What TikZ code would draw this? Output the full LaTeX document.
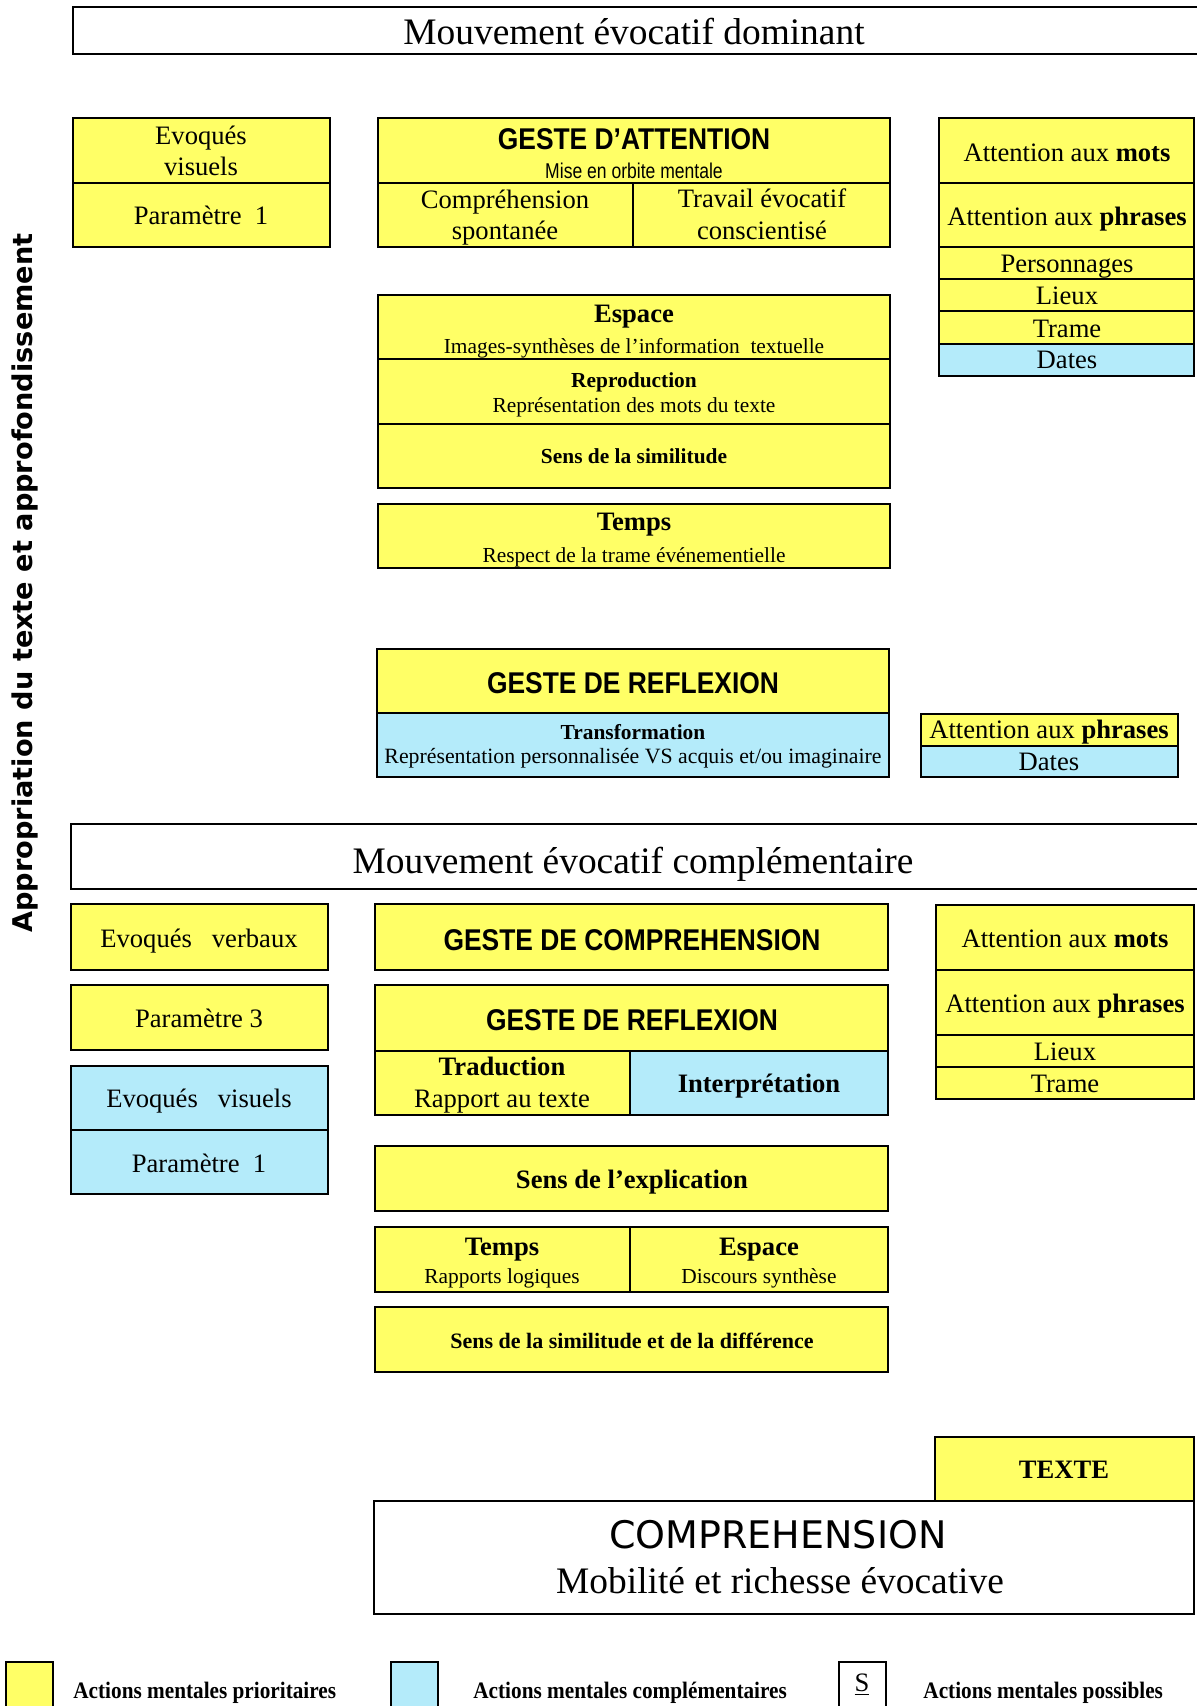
\documentclass[tikz,border=0pt]{standalone}
\usepackage{fontspec}
\usepackage{graphicx}
\setmainfont{Liberation Serif}
\newfontfamily\gestefont[FakeStretch=0.88]{Liberation Sans}
\newfontfamily\narrowfont[FakeStretch=0.82]{Liberation Sans}
\newfontfamily\legendfont[FakeStretch=0.9]{Liberation Serif}
\newfontfamily\roundfont{DejaVu Sans}

\definecolor{prio}{RGB}{255,255,102}
\definecolor{compl}{RGB}{180,235,250}

% a framed cell given by its top-left and bottom-right corners (in px)
\newcommand\cellbox[6]{%
  \pgfmathsetmacro\cellW{(#4-#2)*0.5}%
  \pgfmathsetmacro\cellH{(#5-#3)*0.5}%
  \node[cell, fill=#6, minimum width=\cellW pt, minimum height=\cellH pt,
        anchor=north west] (#1) at (#2,#3) {};}
% a text line placed on its baseline
\newcommand\lbl[5]{\node[#2, anchor=base] (#1) at (#3,#4) {#5};}

\begin{document}
\begin{tikzpicture}[x=0.5pt,y=-0.5pt,
  cell/.style={draw=black, line width=1.1pt, inner sep=0pt, outer sep=0pt},
  body/.style={inner sep=0pt, font=\fontsize{13.3}{15.5}\selectfont},
  small/.style={inner sep=0pt, font=\fontsize{10.7}{13}\selectfont},
  smallb/.style={inner sep=0pt, font=\fontsize{10.7}{13}\selectfont\bfseries},
  bodyb/.style={inner sep=0pt, font=\fontsize{13.3}{15.5}\selectfont\bfseries},
  geste/.style={inner sep=0pt, font=\gestefont\bfseries\fontsize{15}{18}\selectfont},
  mise/.style={inner sep=0pt, font=\narrowfont\fontsize{10.7}{13}\selectfont},
  title/.style={inner sep=0pt, font=\fontsize{18.7}{22}\selectfont},
  roundtitle/.style={inner sep=0pt, font=\roundfont\fontsize{19}{22}\selectfont},
  legend/.style={inner sep=0pt, anchor=base west, font=\legendfont\bfseries\fontsize{11.8}{14}\selectfont}]

\useasboundingbox (0,0) rectangle (1196,1706);
\fill[white] (0,0) rectangle (1196,1706);

% ---------- side label ----------
\node[rotate=90, inner sep=0pt, font=\roundfont\bfseries] (side) at (25,583)
  {\resizebox{349.5pt}{!}{Appropriation du texte et approfondissement}};

% ---------- dominant movement ----------
\cellbox{dom}{73}{7}{1204}{54}{white}
\lbl{domt}{title}{634}{45}{Mouvement évocatif dominant}

% visual evocations
\cellbox{evA}{73}{118}{330}{183}{prio}
\cellbox{parA}{73}{183}{330}{247}{prio}
\lbl{evAa}{body}{201}{145}{Evoqués}
\lbl{evAb}{body}{201}{176}{visuels}
\lbl{parAt}{body}{201}{225}{Paramètre~~1}

% gesture of attention
\cellbox{att}{378}{118}{890}{183}{prio}
\cellbox{comp}{378}{183}{633}{247}{prio}
\cellbox{trav}{633}{183}{890}{247}{prio}
\lbl{attt}{geste}{634}{150}{GESTE D’ATTENTION}
\lbl{atts}{mise}{634}{179}{Mise en orbite mentale}
\lbl{compa}{body}{505}{209}{Compréhension}
\lbl{compb}{body}{505}{240}{spontanée}
\lbl{trava}{body}{762}{208}{Travail évocatif}
\lbl{travb}{body}{762}{240}{conscientisé}

% attention column
\cellbox{rmA}{939}{118}{1194}{183}{prio}
\cellbox{rpA}{939}{183}{1194}{247}{prio}
\cellbox{rpers}{939}{247}{1194}{279}{prio}
\cellbox{rlieuA}{939}{279}{1194}{311}{prio}
\cellbox{rtrameA}{939}{311}{1194}{344}{prio}
\cellbox{rdatesA}{939}{344}{1194}{376}{compl}
\lbl{rmAt}{body}{1067}{162}{Attention aux \textbf{mots}}
\lbl{rpAt}{body}{1067}{226}{Attention aux \textbf{phrases}}
\lbl{rperst}{body}{1067}{273}{Personnages}
\lbl{rlieuAt}{body}{1067}{305}{Lieux}
\lbl{rtrameAt}{body}{1067}{337}{Trame}
\lbl{rdatesAt}{body}{1067}{369}{Dates}

% space / reproduction / similarity
\cellbox{esp}{378}{295}{890}{359}{prio}
\cellbox{repro}{378}{359}{890}{424}{prio}
\cellbox{simil}{378}{424}{890}{488}{prio}
\lbl{espa}{bodyb}{634}{322}{Espace}
\lbl{espb}{small}{634}{353}{Images-synthèses de l’information~~textuelle}
\lbl{reproa}{smallb}{634}{387}{Reproduction}
\lbl{reprob}{small}{634}{412}{Représentation des mots du texte}
\lbl{similt}{smallb}{634}{463}{Sens de la similitude}

% time
\cellbox{tps}{378}{504}{890}{568}{prio}
\lbl{tpsa}{bodyb}{634}{530}{Temps}
\lbl{tpsb}{small}{634}{562}{Respect de la trame événementielle}

% gesture of reflection
\cellbox{refA}{377}{649}{889}{713}{prio}
\cellbox{transf}{377}{713}{889}{777}{compl}
\lbl{refAt}{geste}{633}{693}{GESTE DE REFLEXION}
\lbl{transfa}{smallb}{633}{739}{Transformation}
\lbl{transfb}{inner sep=0pt, font=\fontsize{10.9}{13}\selectfont}{633}{763}{Représentation personnalisée VS acquis et/ou imaginaire}

\cellbox{rpB}{921}{714}{1178}{746}{prio}
\cellbox{rdatesB}{921}{746}{1178}{777}{compl}
\lbl{rpBt}{body}{1049}{738}{Attention aux \textbf{phrases}}
\lbl{rdatesBt}{body}{1049}{770}{Dates}

% ---------- complementary movement ----------
\cellbox{cpl}{71}{824}{1204}{889}{white}
\lbl{cplt}{title}{633}{873}{Mouvement évocatif complémentaire}

\cellbox{evverb}{71}{904}{328}{970}{prio}
\cellbox{parC}{71}{985}{328}{1050}{prio}
\cellbox{evvis}{71}{1066}{328}{1130}{compl}
\cellbox{parB}{71}{1130}{328}{1194}{compl}
\lbl{evverbt}{body}{199}{947}{Evoqués~~~verbaux}
\lbl{parCt}{body}{199}{1027}{Paramètre 3}
\lbl{evvist}{body}{199}{1107}{Evoqués~~~visuels}
\lbl{parBt}{body}{199}{1172}{Paramètre~~1}

\cellbox{gcomp}{375}{904}{888}{970}{prio}
\lbl{gcompt}{geste}{632}{950}{GESTE DE COMPREHENSION}

\cellbox{refB}{375}{985}{888}{1051}{prio}
\cellbox{trad}{375}{1051}{630}{1115}{prio}
\cellbox{interp}{630}{1051}{888}{1115}{compl}
\lbl{refBt}{geste}{632}{1030}{GESTE DE REFLEXION}
\lbl{trada}{bodyb}{502}{1075}{Traduction}
\lbl{tradb}{body}{502}{1107}{Rapport au texte}
\lbl{interpt}{bodyb}{759}{1092}{Interprétation}

\cellbox{expl}{375}{1146}{888}{1211}{prio}
\lbl{explt}{bodyb}{632}{1188}{Sens de l’explication}

\cellbox{tpsC}{375}{1227}{630}{1292}{prio}
\cellbox{espC}{630}{1227}{888}{1292}{prio}
\lbl{tpsCa}{bodyb}{502}{1255}{Temps}
\lbl{tpsCb}{small}{502}{1283}{Rapports logiques}
\lbl{espCa}{bodyb}{759}{1255}{Espace}
\lbl{espCb}{small}{759}{1283}{Discours synthèse}

\cellbox{simdiff}{375}{1307}{888}{1372}{prio}
\lbl{simdifft}{inner sep=0pt, font=\fontsize{11}{13}\selectfont\bfseries}{632}{1348}{Sens de la similitude et de la différence}

\cellbox{rmC}{936}{905}{1194}{970}{prio}
\cellbox{rpC}{936}{970}{1194}{1035}{prio}
\cellbox{rlieuC}{936}{1035}{1194}{1067}{prio}
\cellbox{rtrameC}{936}{1067}{1194}{1099}{prio}
\lbl{rmCt}{body}{1065}{947}{Attention aux \textbf{mots}}
\lbl{rpCt}{body}{1065}{1012}{Attention aux \textbf{phrases}}
\lbl{rlieuCt}{body}{1065}{1060}{Lieux}
\lbl{rtrameCt}{body}{1065}{1092}{Trame}

% ---------- outcome ----------
\cellbox{texte}{935}{1437}{1194}{1501}{prio}
\lbl{textet}{bodyb}{1064}{1478}{TEXTE}
\cellbox{res}{374}{1501}{1194}{1614}{white}
\lbl{resa}{roundtitle}{778}{1548}{COMPREHENSION}
\lbl{resb}{title}{780}{1593}{Mobilité et richesse évocative}

% ---------- key ----------
\cellbox{kprio}{6}{1662}{53}{1712}{prio}
\cellbox{kcompl}{391}{1662}{438}{1712}{compl}
\cellbox{kposs}{839}{1662}{886}{1712}{white}
\lbl{kposst}{body}{862}{1691}{\underline{S}}
\node[legend] (kpriot) at (73,1698) {Actions mentales prioritaires};
\node[legend] (kcomplt) at (473,1698) {Actions mentales complémentaires};
\node[legend] (kposs2) at (923,1698) {Actions mentales possibles};
\end{tikzpicture}
\end{document}
